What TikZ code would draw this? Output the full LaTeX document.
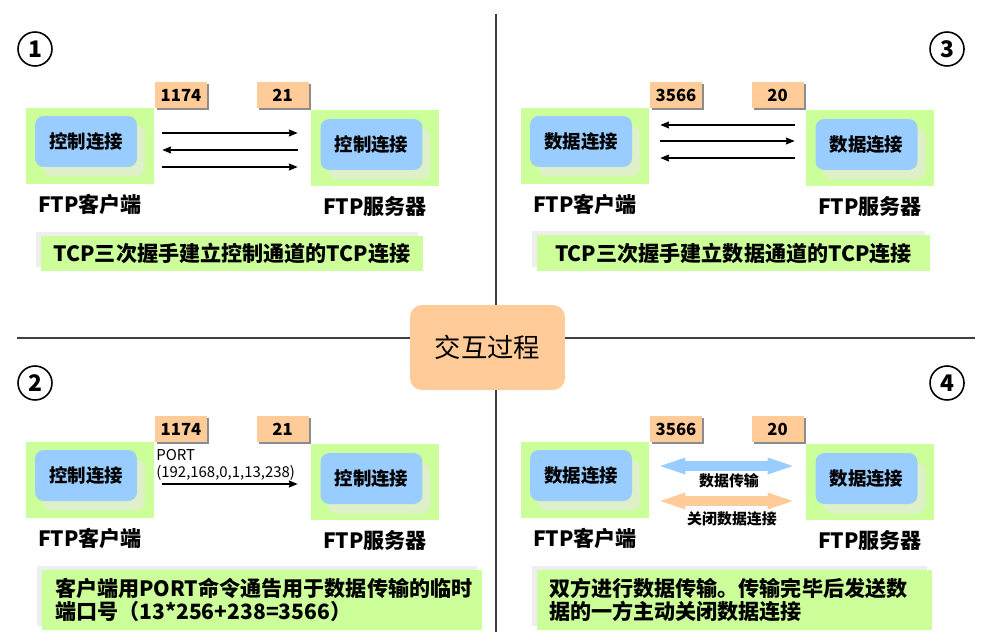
\documentclass[tikz,border=0pt]{standalone}
\usepackage{fontspec}
\setmainfont{Noto Sans CJK SC}
\usetikzlibrary{positioning, arrows.meta, calc, shadows}
\definecolor{hostgreen}{HTML}{CCFF99}
\definecolor{connblue}{HTML}{99CCFF}
\definecolor{portorange}{HTML}{FFCC99}
\definecolor{palegreen}{HTML}{DDF0C8}
\definecolor{capshade}{HTML}{EEEEEE}
\definecolor{divgray}{HTML}{404040}

\tikzset{
  hostbox/.style={fill=hostgreen, minimum width=2.56cm, minimum height=1.52cm, inner sep=0pt},
  connbox/.style={fill=connblue, rounded corners=5pt, minimum width=2.04cm, minimum height=1.02cm,
    inner sep=0pt, font=\bfseries\fontsize{10.5}{12}\selectfont,
    drop shadow={shadow xshift=0.16cm, shadow yshift=-0.19cm, fill=palegreen, opacity=1}},
  portbox/.style={fill=portorange, minimum width=1.04cm, minimum height=0.52cm, inner sep=0pt,
    font=\bfseries\fontsize{9.5}{11}\selectfont,
    drop shadow={shadow xshift=0.04cm, shadow yshift=-0.04cm, fill=black!45, opacity=1}},
  hostlabel/.style={font=\bfseries\fontsize{12}{14}\selectfont, inner sep=0pt},
  caption/.style={fill=hostgreen, inner xsep=0.26cm, inner ysep=0pt,
    font=\bfseries\fontsize{12}{13}\selectfont,
    drop shadow={shadow xshift=-0.1cm, shadow yshift=0.08cm, fill=capshade, opacity=1}},
  numcircle/.style={draw, circle, line width=0.9pt, minimum size=0.68cm, inner sep=0pt,
    font=\bfseries\fontsize{13}{15}\selectfont},
  hub/.style={fill=portorange, rounded corners=0.24cm, minimum width=3.1cm, minimum height=1.7cm,
    font=\fontsize{15}{17}\selectfont},
  flow/.style={-{Stealth[length=5pt,width=4pt,inset=0.5pt]}, line width=0.7pt},
  fatarrow/.style={line width=0.2cm,
    {Triangle[length=0.5cm,width=0.34cm,line width=0pt]}-{Triangle[length=0.5cm,width=0.34cm,line width=0pt]}},
  small/.style={font=\bfseries\fontsize{8.5}{10}\selectfont, inner sep=0pt},
  portmsg/.style={font=\fontsize{8.5}{9.8}\selectfont, inner sep=0pt, align=left},
}

\begin{document}
\begin{tikzpicture}[x=0.02cm, y=-0.02cm]
  \useasboundingbox (0,0) rectangle (982,642);

  % dividers and centre
  \coordinate (vtop) at (496,14);
  \coordinate (vbot) at (496,632);
  \coordinate (hleft) at (17,338);
  \coordinate (hright) at (975,338);
  \draw[divgray, line width=0.75pt] (vtop) -- (vbot);
  \draw[divgray, line width=0.75pt] (hleft) -- (hright);
  \node[hub] (hub) at (487.5,347.5) {交互过程};

  % the four steps
  \node[numcircle] (n1) at (35,49) {1};
  \node[numcircle] (n3) at (947,49) {3};
  \node[numcircle] (n2) at (35,383) {2};
  \node[numcircle] (n4) at (947,383) {4};

  \foreach \q/\dx/\dy/\conn/\pcli/\psrv in {1/0/0/控制连接/1174/21, 3/495/0/数据连接/3566/20,
      2/0/334/控制连接/1174/21, 4/495/334/数据连接/3566/20}{
    \begin{scope}[shift={(\dx,\dy)}]
      \node[hostbox] (cli\q) at (90,146) {};
      \node[connbox] (clic\q) at (86,141.5) {\conn};
      \node[hostbox] (srv\q) at (375,148) {};
      \node[connbox] (srvc\q) at (371.5,144.5) {\conn};
      \node[hostlabel, below=0.19cm of cli\q] (clil\q) {FTP客户端};
      \node[hostlabel, below=0.19cm of srv\q] (srvl\q) {FTP服务器};
      \node[portbox] (pc\q) at (181,95) {\pcli};
      \node[portbox] (ps\q) at (282.5,95) {\psrv};
    \end{scope}
  }

  % step 1
  \draw[flow] ([shift={(8,-13)}]cli1.east) -- ([shift={(-13,-15)}]srv1.west);
  \draw[flow] ([shift={(-13,2)}]srv1.west) -- ([shift={(8,4)}]cli1.east);
  \draw[flow] ([shift={(8,21)}]cli1.east) -- ([shift={(-13,19)}]srv1.west);
  \node[caption, minimum width=7.6cm, minimum height=0.7cm] (cap1) at (232,253.5)
    {TCP三次握手建立控制通道的TCP连接};

  % step 3
  \draw[flow] ([shift={(-11,-23)}]srv3.west) -- ([shift={(11,-21)}]cli3.east);
  \draw[flow] ([shift={(11,-5)}]cli3.east) -- ([shift={(-11,-7)}]srv3.west);
  \draw[flow] ([shift={(-11,10)}]srv3.west) -- ([shift={(11,12)}]cli3.east);
  \node[caption, minimum width=7.86cm, minimum height=0.72cm] (cap3) at (733.5,253)
    {TCP三次握手建立数据通道的TCP连接};

  % step 2
  \draw[flow] ([shift={(8,4)}]cli2.east) -- ([shift={(-13,2)}]srv2.west);
  \node[portmsg, anchor=west] (pmsg) at (156,464.5) {PORT\\(192,168,0,1,13,238)};
  \node[caption, minimum width=8.8cm, minimum height=1.2cm, text width=8.28cm, align=left]
    (cap2) at (262,600) {客户端用PORT命令通告用于数据传输的临时\\端口号（13*256+238=3566）};

  % step 4
  \draw[fatarrow, connblue] ([shift={(11,-14)}]cli4.east) -- ([shift={(-13,-16)}]srv4.west);
  \draw[fatarrow, portorange] ([shift={(11,21)}]cli4.east) -- ([shift={(-13,19)}]srv4.west);
  \node[small] (xfer) at (729,481) {数据传输};
  \node[small] (close) at (732,519) {关闭数据连接};
  \node[caption, minimum width=7.9cm, minimum height=1.2cm, inner xsep=0.24cm, text width=7.42cm, align=left]
    (cap4) at (734.5,600) {双方进行数据传输。传输完毕后发送数\\据的一方主动关闭数据连接};
\end{tikzpicture}
\end{document}
